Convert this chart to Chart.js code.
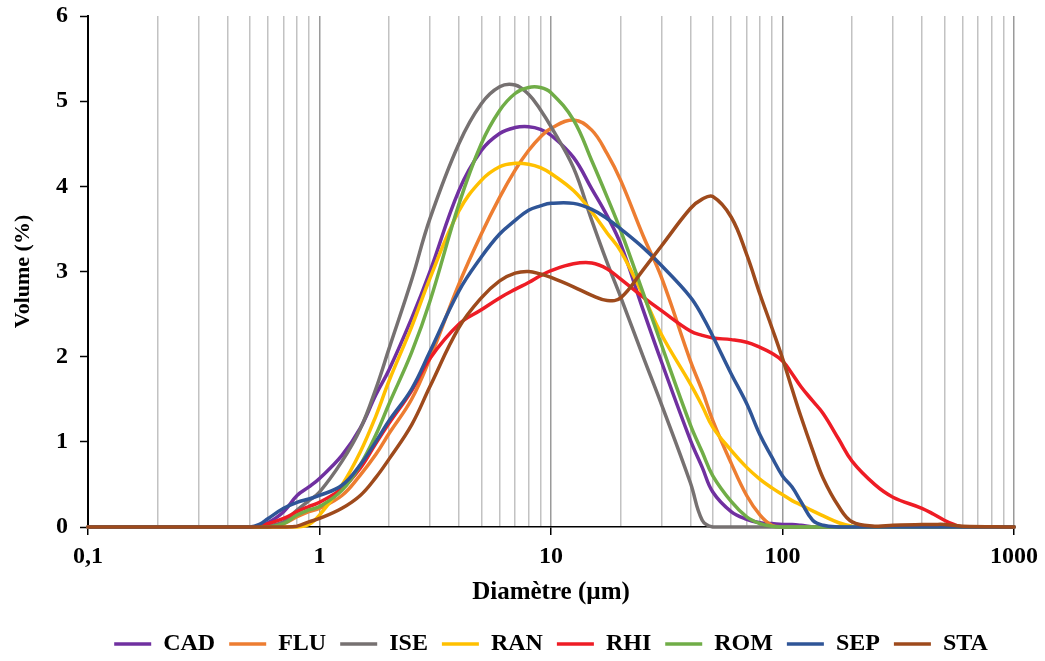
<!DOCTYPE html>
<html>
<head>
<meta charset="utf-8">
<script src="https://cdn.jsdelivr.net/npm/chart.js@4/dist/chart.umd.min.js"></script>
<style>
  html, body { margin: 0; padding: 0; background: #ffffff; }
  #wrap { width: 1045px; height: 661px; }
</style>
</head>
<body>
<div id="wrap"><canvas id="c" width="1045" height="661"></canvas></div>
<script>
// ---- Data ----
const diameters = [0.1, 0.5, 0.55, 0.6, 0.7, 0.8, 0.9, 1, 1.25, 1.5, 1.75, 2, 2.5, 3, 4, 5, 6, 7, 8, 9, 10,
  12.5, 15, 17.5, 20, 25, 30, 40, 45, 50, 60, 70, 80, 90, 100, 110, 120, 135, 150, 175, 200,
  250, 300, 400, 450, 500, 550, 600, 1000];

const CAD = [0, 0, 0.01, 0.05, 0.18, 0.37, 0.47, 0.57, 0.84, 1.16, 1.55, 1.85, 2.45, 3.0, 3.95, 4.42, 4.62, 4.69, 4.7, 4.67, 4.6,
  4.34, 3.97, 3.65, 3.32, 2.55, 1.94, 1.02, 0.7, 0.41, 0.18, 0.09, 0.05, 0.04, 0.03, 0.03, 0.02, 0, 0, 0, 0,
  0, 0, 0, 0, 0, 0, 0, 0];
const FLU = [0, 0, 0, 0, 0.04, 0.12, 0.18, 0.22, 0.37, 0.61, 0.85, 1.1, 1.5, 1.98, 2.85, 3.44, 3.87, 4.19, 4.42, 4.58, 4.68,
  4.78, 4.66, 4.38, 4.07, 3.42, 2.93, 1.95, 1.6, 1.25, 0.75, 0.37, 0.14, 0.02, 0, 0, 0, 0, 0, 0, 0,
  0, 0, 0, 0, 0, 0, 0, 0];
const ISE = [0, 0, 0, 0.01, 0.06, 0.2, 0.31, 0.41, 0.77, 1.15, 1.62, 2.1, 2.9, 3.62, 4.5, 4.97, 5.17, 5.19, 5.08, 4.9, 4.7,
  4.22, 3.6, 3.1, 2.7, 2.0, 1.44, 0.52, 0.08, 0, 0, 0, 0, 0, 0, 0, 0, 0, 0, 0, 0,
  0, 0, 0, 0, 0, 0, 0, 0];
const RAN = [0, 0, 0, 0, 0, 0, 0.03, 0.14, 0.49, 0.88, 1.3, 1.72, 2.35, 2.92, 3.71, 4.07, 4.23, 4.27, 4.26, 4.22, 4.15,
  3.95, 3.7, 3.45, 3.24, 2.72, 2.26, 1.68, 1.42, 1.17, 0.9, 0.7, 0.56, 0.46, 0.38, 0.31, 0.26, 0.19, 0.13, 0.05, 0.01,
  0, 0, 0, 0, 0, 0, 0, 0];
const RHI = [0, 0, 0.01, 0.04, 0.1, 0.18, 0.24, 0.29, 0.45, 0.69, 0.98, 1.22, 1.6, 1.98, 2.38, 2.55, 2.69, 2.79, 2.87, 2.95, 3.01,
  3.09, 3.1, 3.03, 2.91, 2.7, 2.54, 2.3, 2.25, 2.22, 2.2, 2.17, 2.11, 2.04, 1.95, 1.8, 1.65, 1.48, 1.33, 1.03, 0.77,
  0.5, 0.35, 0.22, 0.15, 0.08, 0.03, 0, 0];
const ROM = [0, 0, 0, 0, 0.04, 0.14, 0.2, 0.24, 0.43, 0.73, 1.08, 1.45, 2.05, 2.65, 3.79, 4.5, 4.89, 5.09, 5.16, 5.16, 5.1,
  4.78, 4.3, 3.87, 3.48, 2.75, 2.14, 1.2, 0.88, 0.6, 0.3, 0.12, 0.04, 0.01, 0, 0, 0, 0, 0, 0, 0,
  0, 0, 0, 0, 0, 0, 0, 0];
const SEP = [0, 0, 0.03, 0.1, 0.22, 0.29, 0.33, 0.37, 0.49, 0.73, 1.0, 1.25, 1.62, 2.06, 2.77, 3.17, 3.44, 3.6, 3.72, 3.77, 3.8,
  3.8, 3.73, 3.62, 3.5, 3.28, 3.07, 2.7, 2.48, 2.24, 1.8, 1.45, 1.08, 0.82, 0.6, 0.47, 0.3, 0.08, 0.02, 0, 0,
  0, 0, 0, 0, 0, 0, 0, 0];
const STA = [0, 0, 0, 0, 0, 0.01, 0.06, 0.1, 0.22, 0.37, 0.58, 0.8, 1.2, 1.65, 2.34, 2.69, 2.89, 2.98, 3.0, 2.97, 2.93,
  2.82, 2.72, 2.66, 2.69, 3.02, 3.3, 3.74, 3.85, 3.88, 3.64, 3.2, 2.73, 2.34, 1.98, 1.62, 1.3, 0.9, 0.57, 0.24, 0.06,
  0.01, 0.02, 0.03, 0.03, 0.03, 0.02, 0.01, 0];

const seriesNames = ['CAD', 'FLU', 'ISE', 'RAN', 'RHI', 'ROM', 'SEP', 'STA'];
const seriesValues = [CAD, FLU, ISE, RAN, RHI, ROM, SEP, STA];
const seriesColors = ['#7030A0', '#ED7D31', '#767171', '#FFC000', '#EE1C25', '#70AD47', '#2F5597', '#9E4A1C'];

const majorTicks = [0.1, 1, 10, 100, 1000];
const xTickLabels = ['0,1', '1', '10', '100', '1000'];
const yTickValues = [0, 1, 2, 3, 4, 5, 6];

// ---- Chart ----
const FONT = "'Liberation Serif', 'Times New Roman', serif";
const isMajor = v => majorTicks.some(m => Math.abs(m - v) < m * 1e-6);

const gridTicks = [];
majorTicks.forEach((m, i) => {
  if (i === majorTicks.length - 1) { gridTicks.push(m); return; }
  for (let k = 1; k <= 9; k++) gridTicks.push(+(m * k).toPrecision(6));
});

const datasets = seriesNames.map((name, i) => ({
  label: name,
  data: diameters.map((d, j) => ({ x: d, y: seriesValues[i][j] })),
  borderColor: seriesColors[i],
  backgroundColor: seriesColors[i],
  borderWidth: 3.5,
  borderCapStyle: 'round',
  borderJoinStyle: 'round',
  pointRadius: 0,
  pointHoverRadius: 0,
  fill: false,
  tension: 0.4,
  clip: 6,
  order: seriesNames.length - 1 - i
}));

new Chart(document.getElementById('c'), {
  type: 'line',
  data: { datasets },
  options: {
    responsive: false,
    animation: false,
    devicePixelRatio: 1,
    events: [],
    layout: { padding: { left: 0, right: 31, top: 16, bottom: -5 } },
    plugins: {
      tooltip: { enabled: false },
      legend: {
        position: 'bottom',
        fullSize: false,
        labels: {
          usePointStyle: true,
          pointStyle: 'line',
          pointStyleWidth: 37,
          padding: 14,
          color: '#000',
          font: { family: FONT, size: 24, weight: 'bold' },
          sort: (a, b) => a.datasetIndex - b.datasetIndex
        }
      }
    },
    scales: {
      x: {
        type: 'logarithmic',
        min: 0.1,
        max: 1000,
        afterBuildTicks: scale => { scale.ticks = gridTicks.map(v => ({ value: v, major: isMajor(v) })); },
        afterFit: scale => { scale.height = 91; scale.paddingLeft = 0; scale.paddingRight = 0; },
        border: { display: true, color: '#000', width: 1.5 },
        grid: {
          display: true,
          drawOnChartArea: true,
          drawTicks: true,
          tickLength: 8,
          lineWidth: 1.5,
          color: ctx => isMajor(ctx.tick.value) ? '#9a9a9a' : '#c2c2c2',
          tickColor: ctx => isMajor(ctx.tick.value) ? '#000' : 'rgba(0,0,0,0)',
          tickWidth: 1.5
        },
        ticks: {
          autoSkip: false,
          maxRotation: 0,
          minRotation: 0,
          padding: 7,
          color: '#000',
          font: { family: FONT, size: 24, weight: 'bold' },
          callback: (value) => {
            const i = majorTicks.findIndex(m => Math.abs(m - value) < m * 1e-6);
            return i >= 0 ? xTickLabels[i] : '';
          }
        },
        title: {
          display: true,
          text: 'Diamètre (µm)',
          color: '#000',
          font: { family: FONT, size: 25, weight: 'bold' },
          padding: { top: 0, bottom: 10 }
        }
      },
      y: {
        type: 'linear',
        min: 0,
        max: 6,
        afterBuildTicks: scale => { scale.ticks = yTickValues.map(v => ({ value: v })); },
        afterFit: scale => { scale.width = 88; scale.paddingTop = 0; scale.paddingBottom = 0; },
        border: { display: true, color: '#000', width: 2 },
        grid: {
          display: true,
          drawOnChartArea: false,
          drawTicks: true,
          tickLength: 8,
          tickColor: '#000',
          tickWidth: 1.5
        },
        ticks: {
          padding: 12,
          color: '#000',
          font: { family: FONT, size: 24, weight: 'bold' }
        },
        title: {
          display: true,
          text: 'Volume (%)',
          color: '#000',
          font: { family: FONT, size: 22, weight: 'bold' },
          padding: { top: 10, bottom: 10 }
        }
      }
    }
  }
});
</script>
</body>
</html>
